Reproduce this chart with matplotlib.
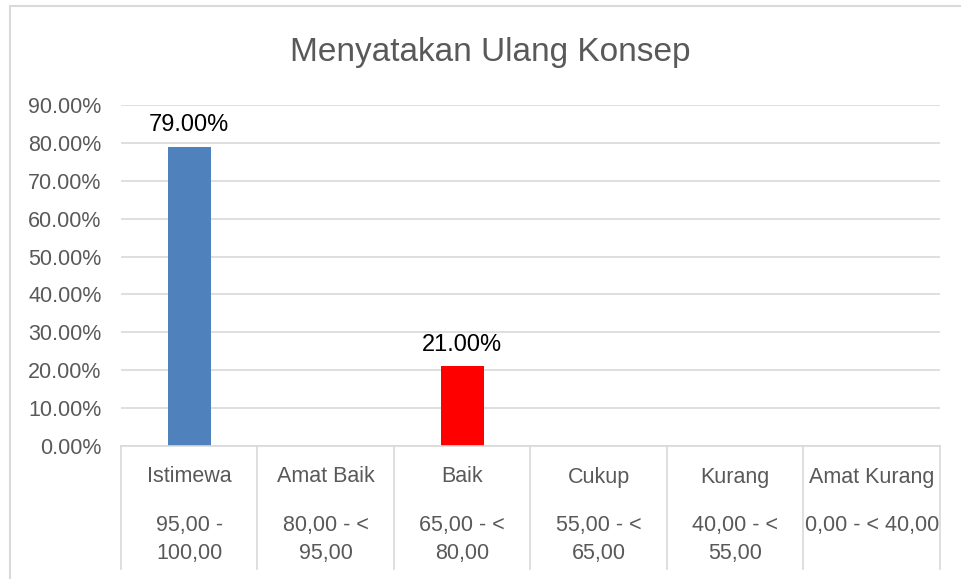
import matplotlib.pyplot as plt
from matplotlib.patches import Rectangle

plt.rcParams['font.family'] = ['Liberation Sans Narrow', 'Liberation Sans', 'DejaVu Sans']

# ── data ─────────────────────────────────────────────────────────────────────
categories = ["Istimewa", "Amat Baik", "Baik", "Cukup", "Kurang", "Amat Kurang"]
ranges = ["95,00 -\n100,00", "80,00 - <\n95,00", "65,00 - <\n80,00",
          "55,00 - <\n65,00", "40,00 - <\n55,00", "0,00 - < 40,00"]
values = [0.79, 0, 0.21, 0, 0, 0]
colors = ["#4F81BD", "#4F81BD", "#FF0000", "#4F81BD", "#4F81BD", "#4F81BD"]
yticks = [0.0, 0.1, 0.2, 0.3, 0.4, 0.5, 0.6, 0.7, 0.8, 0.9]

W, H = 962, 579
fig = plt.figure(figsize=(W / 100, H / 100), dpi=100)

# chart border (cut off on the right and bottom)
fig.patches.append(Rectangle((10 / W, -0.1), 1.2, (579 - 6) / H + 0.1,
                             transform=fig.transFigure, fill=False,
                             edgecolor="#D9D9D9", linewidth=1.5))

x0, x1, y0, y1 = 121, 940, 446, 105
ax = fig.add_axes([x0 / W, (H - y0) / H, (x1 - x0) / W, (y0 - y1) / H])

xs = range(len(categories))
ax.bar(xs, values, width=0.315, color=colors, zorder=3)
for x, v in zip(xs, values):
    if v > 0:
        ax.text(x, v + 0.028, f"{v * 100:.2f}%", ha="center", va="bottom",
                fontsize=17, color="black")

ax.set_xlim(-0.5, len(categories) - 0.5)
ax.set_ylim(0, 0.9)
ax.set_yticks(yticks)
ax.set_yticklabels([f"{t * 100:.2f}%" for t in yticks], fontsize=15.5, color="#595959")
ax.tick_params(axis="y", length=0, pad=14)
ax.set_xticks([])
ax.grid(axis="y", color="#D9D9D9", linewidth=1.2, zorder=0)
for s in ax.spines.values():
    s.set_visible(False)

# category table under the axis
trans = ax.get_xaxis_transform()
bottom = (y0 - 569) / (y0 - y1)
ax.plot([-0.5, len(categories) - 0.5], [0, 0], transform=trans,
        color="#D9D9D9", linewidth=1.2, clip_on=False, zorder=4)
for b in [i - 0.5 for i in range(len(categories) + 1)]:
    ax.plot([b, b], [0, bottom], transform=trans, color="#D9D9D9",
            linewidth=1.2, clip_on=False)
lab_y = (y0 - 477) / (y0 - y1)
rng_y = (y0 - 515) / (y0 - y1)
for x, c, r in zip(xs, categories, ranges):
    ax.text(x, lab_y, c, transform=trans, ha="center", va="center",
            fontsize=15.5, color="#595959")
    ax.text(x, rng_y, r, transform=trans, ha="center", va="top",
            fontsize=15.5, color="#595959", linespacing=1.45)

fig.text(490 / W, (H - 52) / H, "Menyatakan Ulang Konsep", ha="center",
         va="center", fontsize=24, color="#595959")

fig.savefig("out.png", dpi=100)
